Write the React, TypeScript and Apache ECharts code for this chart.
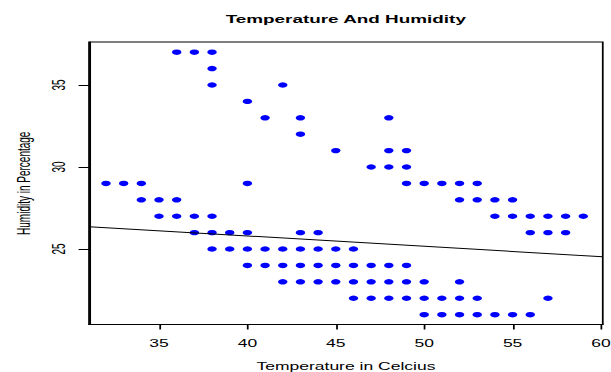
import React, { useEffect, useRef } from "react";
import * as echarts from "echarts";

// Scatter points (temperature, humidity), grouped by humidity row
const temperature: number[] = [
  36, 37, 38,
  38,
  38, 42,
  40,
  41, 43, 48,
  43,
  45, 48, 49,
  47, 48, 49,
  32, 33, 34, 40, 49, 50, 51, 52, 53,
  34, 35, 36, 52, 53, 54, 55,
  35, 36, 37, 38, 54, 55, 56, 57, 58, 59,
  37, 38, 39, 40, 43, 44, 56, 57, 58,
  38, 39, 40, 41, 42, 43, 44, 45, 46,
  40, 41, 42, 43, 44, 45, 46, 47, 48, 49,
  42, 43, 44, 45, 46, 47, 48, 49, 50, 52,
  46, 47, 48, 49, 50, 51, 52, 53, 57,
  50, 51, 52, 53, 54, 55, 56,
];
const humidity: number[] = [
  37, 37, 37,
  36,
  35, 35,
  34,
  33, 33, 33,
  32,
  31, 31, 31,
  30, 30, 30,
  29, 29, 29, 29, 29, 29, 29, 29, 29,
  28, 28, 28, 28, 28, 28, 28,
  27, 27, 27, 27, 27, 27, 27, 27, 27, 27,
  26, 26, 26, 26, 26, 26, 26, 26, 26,
  25, 25, 25, 25, 25, 25, 25, 25, 25,
  24, 24, 24, 24, 24, 24, 24, 24, 24, 24,
  23, 23, 23, 23, 23, 23, 23, 23, 23, 23,
  22, 22, 22, 22, 22, 22, 22, 22, 22,
  21, 21, 21, 21, 21, 21, 21,
];

// Fitted regression line
const fitIntercept = 28.33;
const fitSlope = -0.0633;

// Axis ranges and ticks
const xRange = [31.04, 60.1];
const yRange = [20.4, 37.62];
const xTicks = [35, 40, 45, 50, 55, 60];
const yTicks = [25, 30, 35];

const TITLE = "Temperature And Humidity";
const X_NAME = "Temperature in Celcius";
const Y_NAME = "Humidity in Percentage";

const OUT_W = 611;
const OUT_H = 372;
const IN_W = 349;
const SX = OUT_W / IN_W;
const FONT = "'Liberation Sans', Arial, sans-serif";

export default function App() {
  const ref = useRef<HTMLDivElement>(null);

  useEffect(() => {
    if (!ref.current) return;
    const chart = echarts.init(ref.current, undefined, { renderer: "svg" });
    const points = temperature.map((t, i) => [t, humidity[i]]);
    const line = [
      [xRange[0], fitIntercept + fitSlope * xRange[0]],
      [xRange[1], fitIntercept + fitSlope * xRange[1]],
    ];
    chart.setOption({
      animation: false,
      backgroundColor: "#ffffff",
      title: {
        text: TITLE,
        left: 192.5,
        top: 9,
        textAlign: "center",
        textStyle: {
          fontFamily: FONT,
          fontWeight: "bold",
          fontSize: 10.8,
          color: "#000",
        },
      },
      grid: {
        left: 50.86,
        right: 4.7,
        top: 42,
        bottom: 47.5,
        show: true,
        borderColor: "#000",
        borderWidth: 1,
        backgroundColor: "transparent",
        outerBoundsMode: "none",
      },
      xAxis: {
        type: "value",
        min: xRange[0],
        max: xRange[1],
        name: X_NAME,
        nameLocation: "middle",
        nameGap: 37,
        nameTextStyle: { fontFamily: FONT, fontSize: 10, color: "#000" },
        axisLine: { show: true, onZero: false, lineStyle: { color: "#000", width: 1 } },
        axisTick: {
          show: true,
          length: 5,
          customValues: xTicks,
          lineStyle: { color: "#000" },
        },
        axisLabel: {
          customValues: xTicks,
          margin: 14,
          fontFamily: FONT,
          fontSize: 10,
          color: "#000",
        },
        splitLine: { show: false },
      },
      yAxis: {
        type: "value",
        min: yRange[0],
        max: yRange[1],
        name: Y_NAME,
        nameLocation: "middle",
        nameRotate: 90,
        nameGap: 32.5,
        nameTextStyle: { fontFamily: FONT, fontSize: 10, color: "#000" },
        axisLine: { show: true, onZero: false, lineStyle: { color: "#000", width: 1 } },
        axisTick: {
          show: true,
          length: 6,
          customValues: yTicks,
          lineStyle: { color: "#000" },
        },
        axisLabel: {
          customValues: yTicks,
          rotate: 90,
          margin: 12,
          fontFamily: FONT,
          fontSize: 10,
          color: "#000",
        },
        splitLine: { show: false },
      },
      series: [
        {
          type: "scatter",
          data: points,
          symbol: "circle",
          symbolSize: 5.4,
          itemStyle: { color: "#0000ff", opacity: 1 },
          silent: true,
        },
        {
          type: "line",
          data: line,
          showSymbol: false,
          symbol: "none",
          lineStyle: { color: "#000", width: 1 },
          silent: true,
        },
      ],
    });
    return () => chart.dispose();
  }, []);

  return (
    <div
      style={{
        position: "fixed",
        left: 0,
        top: 0,
        width: OUT_W,
        height: OUT_H,
        overflow: "hidden",
        background: "#fff",
      }}
    >
      <div
        ref={ref}
        style={{
          width: IN_W,
          height: OUT_H,
          transform: `scaleX(${SX})`,
          transformOrigin: "0 0",
        }}
      />
    </div>
  );
}
